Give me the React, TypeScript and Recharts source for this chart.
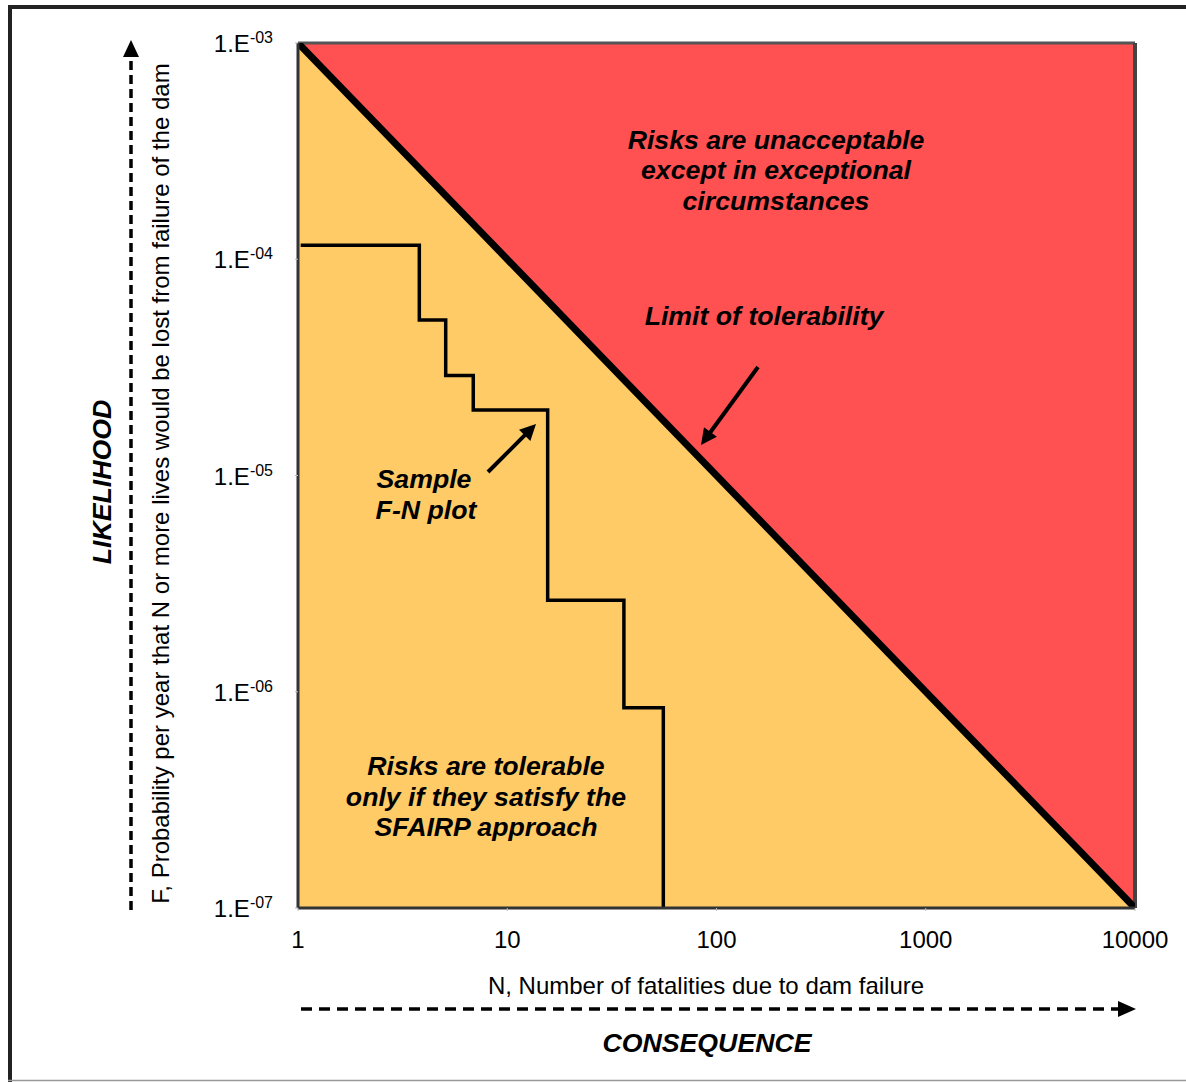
import React from 'react';
import { ComposedChart, Area, Line, XAxis, YAxis, CartesianGrid, ReferenceLine } from 'recharts';

// Axis ticks
const xTicks = [1, 10, 100, 1000, 10000];
const yTicks = [1e-7, 1e-6, 1e-5, 1e-4, 1e-3];
const yTickLabels: Record<string, string> = {
  '1e-7': '-07', '0.000001': '-06', '0.00001': '-05', '0.0001': '-04', '0.001': '-03',
};

// Limit of tolerability line (N, F)
const limitN = [1, 10000];
const limitF = [1e-3, 1e-7];

// Sample F-N plot (step curve)
const sampleN = [1.03, 3.8, 5.08, 6.88, 15.6, 36.1, 55.7];
const sampleF = [1.16e-4, 5.24e-5, 2.9e-5, 2.01e-5, 2.65e-6, 8.43e-7, 1e-7];

const limitData = limitN.map((n, i) => ({ N: n, F: limitF[i] }));
const sampleData = sampleN.map((n, i) => ({ N: n, F: sampleF[i] }));

const FONT = '"Liberation Sans", Arial, Helvetica, sans-serif';
const RED = '#FF5151';
const ORANGE = '#FECB67';

const YTick = (props: any) => {
  const { x, y, payload } = props;
  const key = String(payload.value);
  const sup = yTickLabels[key] ?? '';
  return (
    <text x={x} y={y + 9} textAnchor="end" fontFamily={FONT} fontSize={24} fill="#000">
      <tspan>1.E</tspan>
      <tspan fontSize={16} dy={-9}>{sup}</tspan>
    </text>
  );
};

const XTick = (props: any) => {
  const { x, y, payload } = props;
  return (
    <text x={x} y={y + 35} textAnchor="middle" fontFamily={FONT} fontSize={24} fill="#000">
      {String(payload.value)}
    </text>
  );
};

const Arrow = ({ x1, y1, x2, y2, w = 4, head = 16, hw = 8 }: any) => {
  const dx = x2 - x1, dy = y2 - y1;
  const len = Math.sqrt(dx * dx + dy * dy);
  const ux = dx / len, uy = dy / len;
  const bx = x2 - ux * head, by = y2 - uy * head;
  const px = -uy, py = ux;
  return (
    <g>
      <line x1={x1} y1={y1} x2={bx + ux * 2} y2={by + uy * 2} stroke="#000" strokeWidth={w} />
      <polygon
        points={`${x2},${y2} ${bx + px * hw},${by + py * hw} ${bx - px * hw},${by - py * hw}`}
        fill="#000"
      />
    </g>
  );
};

export default function App() {
  const W = 1186;
  const H = 1082;
  const boldItalic = { fontFamily: FONT, fontWeight: 700, fontStyle: 'italic' as const, fill: '#000' };
  return (
    <div style={{ position: 'absolute', left: 0, top: 0, width: W, height: H, background: '#fff' }}>
      <ComposedChart
        width={W}
        height={H}
        margin={{ top: 43, right: 51, left: 238, bottom: 124 }}
      >
        <CartesianGrid fill={RED} horizontal={false} vertical={false} />
        <XAxis
          dataKey="N"
          type="number"
          scale="log"
          domain={[1, 10000]}
          ticks={xTicks}
          allowDataOverflow
          height={50}
          axisLine={{ stroke: '#333', strokeWidth: 3 }}
          tickLine={{ stroke: '#bbb' }}
          tickSize={3}
          tickMargin={2}
          tick={<XTick />}
          interval={0}
        />
        <YAxis
          dataKey="F"
          type="number"
          scale="log"
          domain={[1e-7, 1e-3]}
          ticks={yTicks}
          allowDataOverflow
          width={60}
          axisLine={{ stroke: '#333', strokeWidth: 3 }}
          tickLine={{ stroke: '#bbb' }}
          tickSize={3}
          tickMargin={22}
          tick={<YTick />}
          interval={0}
        />
        <Area
          data={limitData}
          dataKey="F"
          type="linear"
          baseValue="dataMin"
          fill={ORANGE}
          fillOpacity={1}
          stroke="none"
          isAnimationActive={false}
        />
        <ReferenceLine y={1e-3} stroke="#555" strokeWidth={3} />
        <ReferenceLine x={10000} stroke="#444" strokeWidth={4} />
        <Line
          data={limitData}
          dataKey="F"
          type="linear"
          stroke="#000"
          strokeWidth={7}
          strokeLinecap="round"
          dot={false}
          isAnimationActive={false}
        />
        <Line
          data={sampleData}
          dataKey="F"
          type="stepAfter"
          stroke="#000"
          strokeWidth={3.5}
          dot={false}
          isAnimationActive={false}
        />
      </ComposedChart>

      <svg
        width={W}
        height={H}
        style={{ position: 'absolute', left: 0, top: 0, pointerEvents: 'none' }}
      >
        {/* outer frame */}
        <line x1={10} y1={5} x2={10} y2={1082} stroke="#222" strokeWidth={4} />
        <line x1={8} y1={7} x2={1186} y2={7} stroke="#222" strokeWidth={4} />
        <line x1={8} y1={1080.5} x2={1186} y2={1080.5} stroke="#999" strokeWidth={1.5} />

        {/* region texts */}
        <text x={776} y={149} textAnchor="middle" fontSize={26.7} {...boldItalic}>Risks are unacceptable</text>
        <text x={776} y={179} textAnchor="middle" fontSize={26.7} {...boldItalic}>except in exceptional</text>
        <text x={776} y={210} textAnchor="middle" fontSize={26.7} {...boldItalic}>circumstances</text>

        <text x={764} y={325} textAnchor="middle" fontSize={26.7} {...boldItalic}>Limit of tolerability</text>
        <Arrow x1={758} y1={367} x2={701} y2={445} />

        <text x={424} y={488} textAnchor="middle" fontSize={26.7} {...boldItalic}>Sample</text>
        <text x={426} y={519} textAnchor="middle" fontSize={26.7} {...boldItalic}>F-N plot</text>
        <Arrow x1={488} y1={472} x2={536} y2={424} />

        <text x={486} y={775} textAnchor="middle" fontSize={26.7} {...boldItalic}>Risks are tolerable</text>
        <text x={486} y={806} textAnchor="middle" fontSize={26.7} {...boldItalic}>only if they satisfy the</text>
        <text x={486} y={836} textAnchor="middle" fontSize={26.7} {...boldItalic}>SFAIRP approach</text>

        {/* x axis title and consequence arrow */}
        <text x={706} y={994} textAnchor="middle" fontFamily={FONT} fontSize={24} fill="#000">
          N, Number of fatalities due to dam failure
        </text>
        <line x1={301} y1={1009} x2={1120} y2={1009} stroke="#000" strokeWidth={3.5} strokeDasharray="11 7" />
        <polygon points="1136,1009 1118,1001 1118,1017" fill="#000" />
        <text x={707} y={1052} textAnchor="middle" fontSize={26.7} {...boldItalic}>CONSEQUENCE</text>

        {/* y axis title and likelihood arrow */}
        <text
          x={0}
          y={0}
          transform="translate(169,483.5) rotate(-90)"
          textAnchor="middle"
          fontFamily={FONT}
          fontSize={24}
          fill="#000"
        >
          F, Probability per year that N or more lives would be lost from failure of the dam
        </text>
        <line x1={131} y1={910} x2={131} y2={56} stroke="#000" strokeWidth={3.5} strokeDasharray="9 5" />
        <polygon points="131,40 123,57 139,57" fill="#000" />
        <text
          x={0}
          y={0}
          transform="translate(111,482) rotate(-90)"
          textAnchor="middle"
          fontSize={26.7}
          {...boldItalic}
        >
          LIKELIHOOD
        </text>
      </svg>
    </div>
  );
}
